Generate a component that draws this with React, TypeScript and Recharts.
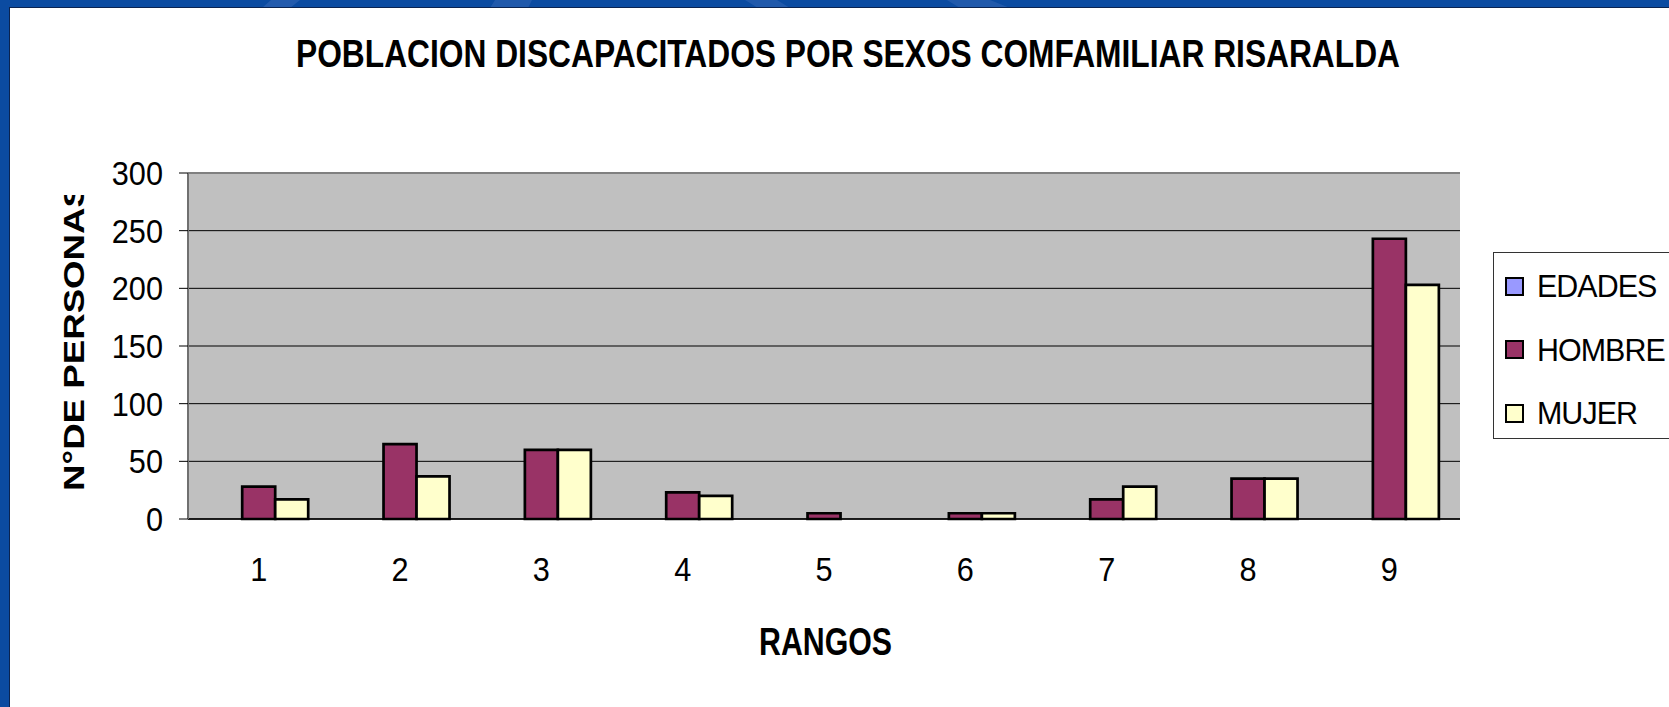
import React from 'react';
import { BarChart, Bar, XAxis, YAxis, CartesianGrid, Legend, ReferenceLine } from 'recharts';

const categories = ['1', '2', '3', '4', '5', '6', '7', '8', '9'];
const edades = [0, 0, 0, 0, 0, 0, 0, 0, 0];
const hombre = [28, 65, 60, 23, 5, 5, 17, 35, 243];
const mujer = [17, 37, 60, 20, 0, 5, 28, 35, 203];
const yTicks = [0, 50, 100, 150, 200, 250, 300];
const boundaryTicks = [0, 1, 2, 3, 4, 5, 6, 7, 8, 9];

const seriesNames = ['EDADES', 'HOMBRE', 'MUJER'];
const seriesColors = ['#9999FF', '#993366', '#FFFFCC'];

const chartTitle = 'POBLACION DISCAPACITADOS POR SEXOS COMFAMILIAR RISARALDA';
const xTitle = 'RANGOS';
const yTitle = 'N°DE PERSONAS';

const data = categories.map((c, i) => ({
  rango: c,
  EDADES: edades[i],
  HOMBRE: hombre[i],
  MUJER: mujer[i],
}));

const FONT = '"Liberation Sans", Arial, Helvetica, sans-serif';

const YTick = (props: any) => {
  const { x, y, payload } = props;
  return (
    <g transform={`translate(${x},${y}) scale(0.93,1)`}>
      <text x={0} y={0} dy="0.36em" textAnchor="end" fontSize={33} fill="#000" fontFamily={FONT}>
        {payload.value}
      </text>
    </g>
  );
};

const XTick = (props: any) => {
  const { x, y, payload } = props;
  return (
    <g transform={`translate(${x},${y}) scale(0.93,1)`}>
      <text x={0} y={0} dy="0.71em" textAnchor="middle" fontSize={33} fill="#000" fontFamily={FONT}>
        {payload.value}
      </text>
    </g>
  );
};

const LegendBox = (props: any) => {
  const payload = props.payload || [];
  return (
    <div
      style={{
        width: 200,
        height: 187,
        border: '1px solid #333',
        background: '#fff',
        boxSizing: 'border-box',
        position: 'relative',
        fontFamily: FONT,
      }}
    >
      {payload.map((p: any, i: number) => (
        <div
          key={p.value}
          style={{
            position: 'absolute',
            left: 11,
            top: 21 + i * 63.5,
            height: 24,
            display: 'flex',
            alignItems: 'center',
            whiteSpace: 'nowrap',
          }}
        >
          <span
            style={{
              display: 'inline-block',
              width: 19,
              height: 19,
              boxSizing: 'border-box',
              border: '2.5px solid #000',
              background: p.color,
              marginRight: 13,
            }}
          />
          <span
            style={{
              display: 'inline-block',
              fontSize: 32,
              color: '#000',
              lineHeight: '24px',
              letterSpacing: -1,
              transform: 'scaleX(0.95)',
              transformOrigin: 'left center',
            }}
          >
            {p.value}
          </span>
        </div>
      ))}
    </div>
  );
};

export default function App() {
  return (
    <div
      style={{
        position: 'absolute',
        left: 0,
        top: 0,
        width: 1669,
        height: 707,
        overflow: 'hidden',
        background: '#0B4BA1',
        fontFamily: FONT,
      }}
    >
      <svg width={1669} height={707} style={{ position: 'absolute', left: 0, top: 0 }}>
        <polygon points="271,0 300,0 290,8 262,8" fill="#2E63B2" opacity={0.7} />
        <polygon points="495,0 532,0 528,8 490,8" fill="#2E63B2" opacity={0.6} />
        <polygon points="745,0 777,0 790,8 758,8" fill="#2E63B2" opacity={0.6} />
        <polygon points="947,0 990,0 1010,8 960,8" fill="#2E63B2" opacity={0.6} />
      </svg>
      <div
        style={{
          position: 'absolute',
          left: 9,
          top: 7,
          width: 1670,
          height: 710,
          background: '#fff',
          borderLeft: '1px solid #0A2350',
          borderTop: '1px solid #0A2350',
        }}
      />
      <div style={{ position: 'absolute', left: 0, top: 0 }}>
        <BarChart
          width={1669}
          height={707}
          data={data}
          margin={{ top: 173, right: 209, bottom: 0, left: 0 }}
          barCategoryGap="15%"
          barGap={0}
        >
          <CartesianGrid
            xAxisId="c"
            vertical={false}
            horizontal={true}
            fill="#C0C0C0"
            fillOpacity={1}
            stroke="#000"
            strokeWidth={1}
          />
          <XAxis
            xAxisId="b"
            type="number"
            domain={[0, categories.length]}
            ticks={boundaryTicks}
            allowDataOverflow
            tick={false}
            tickSize={11}
            axisLine={false}
            tickLine={{ stroke: '#000', strokeWidth: 1 }}
            height={0}
          />
          <XAxis
            xAxisId="c"
            dataKey="rango"
            height={188}
            tickLine={false}
            tickSize={0}
            tickMargin={39}
            axisLine={{ stroke: '#000', strokeWidth: 1.5 }}
            tick={<XTick />}
            interval={0}
          />
          <YAxis
            width={188}
            domain={[0, 300]}
            ticks={yTicks}
            tickSize={9}
            tickMargin={16}
            axisLine={{ stroke: '#707070', strokeWidth: 2 }}
            tickLine={{ stroke: '#000', strokeWidth: 1 }}
            tick={<YTick />}
            interval={0}
          />
          <ReferenceLine xAxisId="c" y={300} stroke="#808080" strokeWidth={2} />
          <ReferenceLine xAxisId="b" x={categories.length} stroke="#808080" strokeWidth={3} />
          {seriesNames.map((name, i) => (
            <Bar
              key={name}
              xAxisId="c"
              dataKey={name}
              fill={seriesColors[i]}
              stroke="#000"
              strokeWidth={2.7}
              isAnimationActive={false}
            />
          ))}
          <Legend
            layout="vertical"
            align="center"
            verticalAlign="middle"
            content={<LegendBox />}
            wrapperStyle={{ left: 1493, top: 252, width: 200, height: 188 }}
          />
        </BarChart>
      </div>
      <svg
        width={1669}
        height={707}
        style={{ position: 'absolute', left: 0, top: 0, pointerEvents: 'none' }}
      >
        <defs>
          <clipPath id="ytclip">
            <rect x={0} y={195} width={200} height={512} />
          </clipPath>
        </defs>
        <text
          x={296}
          y={67}
          fontSize={38}
          fontWeight="bold"
          fontFamily={FONT}
          textLength={1104}
          lengthAdjust="spacingAndGlyphs"
          fill="#000"
        >
          {chartTitle}
        </text>
        <text
          x={759}
          y={655}
          fontSize={38}
          fontWeight="bold"
          fontFamily={FONT}
          textLength={133}
          lengthAdjust="spacingAndGlyphs"
          fill="#000"
        >
          {xTitle}
        </text>
        <g clipPath="url(#ytclip)">
          <text
            transform="translate(84, 491) rotate(-90)"
            x={0}
            y={0}
            fontSize={29}
            fontWeight="bold"
            fontFamily={FONT}
            textLength={308}
            lengthAdjust="spacingAndGlyphs"
            fill="#000"
          >
            {yTitle}
          </text>
        </g>
      </svg>
    </div>
  );
}
